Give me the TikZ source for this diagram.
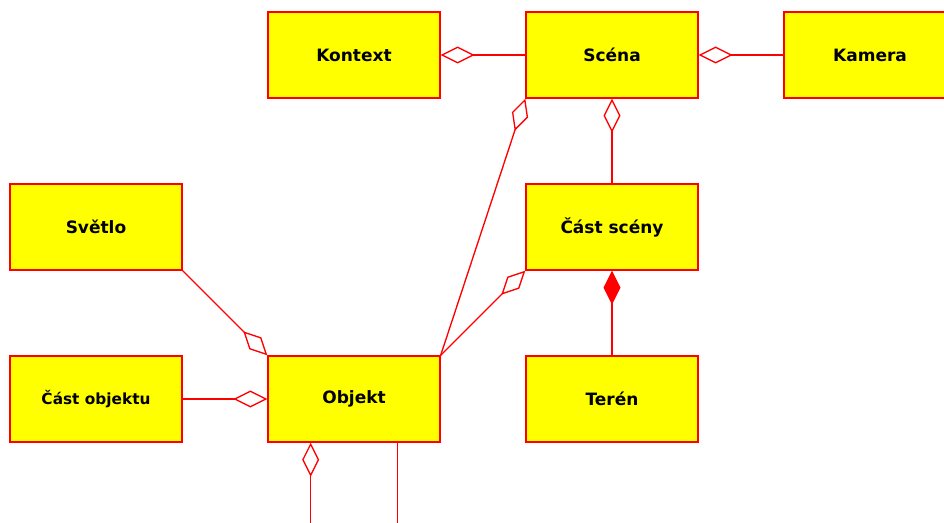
\documentclass[tikz,border=0pt]{standalone}
\usepackage{fontspec}
\setmainfont{DejaVu Sans}
\usetikzlibrary{arrows.meta,calc}
\definecolor{boxfill}{HTML}{FFFF00}
\definecolor{boxline}{HTML}{FF0000}
\begin{document}
\begin{tikzpicture}[x=0.75pt,y=-0.75pt,
  cls/.style={draw=boxline,fill=boxfill,line width=1pt,rectangle,inner sep=0pt,
    minimum width=129pt,minimum height=64.5pt,font=\fontsize{12.75}{15}\selectfont\bfseries},
  conn/.style={draw=boxline,line width=1pt},
  agg/.style={conn,{Diamond[open,length=25.5pt,width=12.75pt,line join=miter]}-},
  comp/.style={conn,{Diamond[length=25.5pt,width=12.75pt,line join=miter,fill=boxline]}-}]
\useasboundingbox (0,0) rectangle (944,523);
\clip (0,0) rectangle (944,523);
\node[cls] (kontext) at (354,55) {Kontext};
\node[cls] (scena) at (612,55) {Scéna};
\node[cls] (kamera) at (870,55) {Kamera};
\node[cls] (svetlo) at (96,227) {Světlo};
\node[cls] (castsceny) at (612,227) {Část scény};
\node[cls,font=\fontsize{11.5}{14}\selectfont\bfseries] (castobjektu) at (96,399) {Část objektu};
\node[cls] (objekt) at (354,399) {Objekt};
\node[cls] (teren) at (612,399) {Terén};
\coordinate (d1) at ($(objekt.south west)!0.25!(objekt.south east)$);
\coordinate (d2) at ($(objekt.south west)!0.75!(objekt.south east)$);
\coordinate (e1) at ($(d1)+(0,100)$);
\coordinate (e2) at ($(d2)+(0,100)$);
\draw[agg] (kontext.east) -- (scena.west);
\draw[agg] (scena.east) -- (kamera.west);
\draw[agg] (scena.south) -- (castsceny.north);
\draw[comp] (castsceny.south) -- (teren.north);
\draw[agg] (scena.south west) -- (objekt.north east);
\draw[agg] (castsceny.south west) -- (objekt.north east);
\draw[agg] (objekt.north west) -- (svetlo.south east);
\draw[agg] (objekt.west) -- (castobjektu.east);
\draw[agg] (d1) -- (e1);
\draw[conn] (d2) -- (e2);
\end{tikzpicture}
\end{document}
